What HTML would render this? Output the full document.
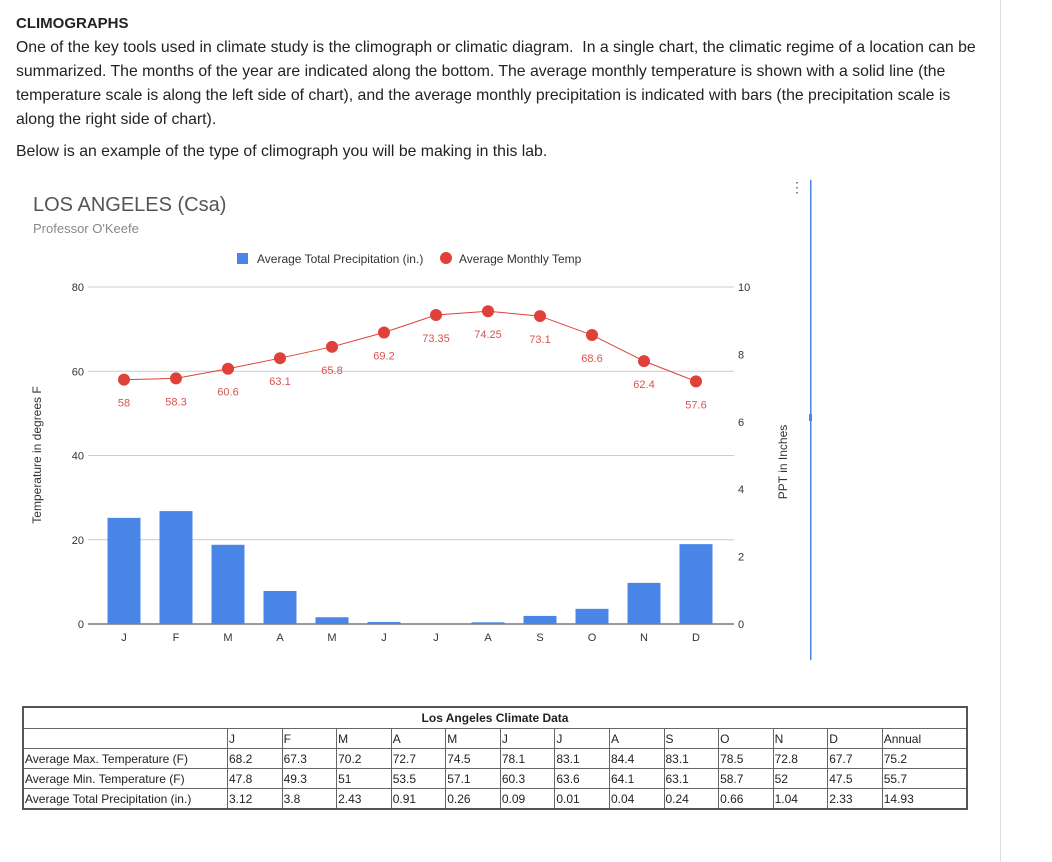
<!DOCTYPE html>
<html><head><meta charset="utf-8"><style>
body{margin:0;width:1052px;height:862px;background:#fff;font-family:"Liberation Sans",sans-serif;position:relative;overflow:hidden}
.txt{position:absolute;left:16px;top:12px;width:1000px;font-size:15.8px;line-height:24px;color:#222;white-space:nowrap}
.txt h3{margin:0;font-size:15px;font-weight:bold}
.txt p{margin:0}
table{position:absolute;left:22px;top:706px;width:946px;border-collapse:collapse;font-size:12px;color:#222;border:2px solid #555}
td{border:1px solid #666;padding:0 1px;height:19px;text-align:left}
</style></head><body>
<div class="txt">
<h3>CLIMOGRAPHS</h3>
<p>One of the key tools used in climate study is the climograph or climatic diagram.&nbsp; In a single chart, the climatic regime of a location can be<br>summarized. The months of the year are indicated along the bottom. The average monthly temperature is shown with a solid line (the<br>temperature scale is along the left side of chart), and the average monthly precipitation is indicated with bars (the precipitation scale is<br>along the right side of chart).</p>
<p style="margin-top:8px">Below is an example of the type of climograph you will be making in this lab.</p>
</div>
<div style="position:absolute;left:1000px;top:0;width:1px;height:862px;background:#ddd"></div>
<svg id="chart" width="1052" height="700" style="position:absolute;left:0;top:0">
<text x="33" y="211" font-size="20" fill="#555">LOS ANGELES (Csa)</text>
<text x="33" y="233" font-size="13" fill="#888">Professor O'Keefe</text>
<g>
<rect x="237" y="253" width="11" height="11" fill="#4a86e8"/>
<text x="257" y="263" font-size="12" fill="#333">Average Total Precipitation (in.)</text>
<circle cx="446" cy="258" r="6" fill="#e0403a"/>
<text x="459" y="263" font-size="12" fill="#333">Average Monthly Temp</text>
</g>
<text transform="translate(41,455) rotate(-90)" text-anchor="middle" font-size="12" fill="#333">Temperature in degrees F</text>
<text transform="translate(787,462) rotate(-90)" text-anchor="middle" font-size="12" fill="#333">PPT in Inches</text>
<g id="g"></g>
<rect x="810" y="180" width="1.5" height="480" fill="#4a86e8"/>
<rect x="809" y="414" width="3" height="7" fill="#4a86e8"/>
<text x="797" y="192" font-size="14" fill="#555" text-anchor="middle">⋮</text>
</svg>
<table>
<tr><td colspan="14" style="text-align:center;font-weight:bold;height:20px">Los Angeles Climate Data</td></tr>
<tr><td style="width:201px"></td><td>J</td><td>F</td><td>M</td><td>A</td><td>M</td><td>J</td><td>J</td><td>A</td><td>S</td><td>O</td><td>N</td><td>D</td><td>Annual</td></tr>
<tr><td>Average Max. Temperature (F)</td><td>68.2</td><td>67.3</td><td>70.2</td><td>72.7</td><td>74.5</td><td>78.1</td><td>83.1</td><td>84.4</td><td>83.1</td><td>78.5</td><td>72.8</td><td>67.7</td><td>75.2</td></tr>
<tr><td>Average Min. Temperature (F)</td><td>47.8</td><td>49.3</td><td>51</td><td>53.5</td><td>57.1</td><td>60.3</td><td>63.6</td><td>64.1</td><td>63.1</td><td>58.7</td><td>52</td><td>47.5</td><td>55.7</td></tr>
<tr><td>Average Total Precipitation (in.)</td><td>3.12</td><td>3.8</td><td>2.43</td><td>0.91</td><td>0.26</td><td>0.09</td><td>0.01</td><td>0.04</td><td>0.24</td><td>0.66</td><td>1.04</td><td>2.33</td><td>14.93</td></tr>
</table>
<script>
const months=["J","F","M","A","M","J","J","A","S","O","N","D"];
const temps=[58,58.3,60.6,63.1,65.8,69.2,73.35,74.25,73.1,68.6,62.4,57.6];
const precip=[3.15,3.35,2.35,0.98,0.2,0.06,0,0.05,0.24,0.45,1.22,2.37];
const tempTicks=[0,20,40,60,80];
const precipTicks=[0,2,4,6,8,10];
const L=88,R=734,T=287,B=624,X0=98,XW=624;
const ns="http://www.w3.org/2000/svg",g=document.getElementById('g');
const xS=i=>X0+XW/12*(i+0.5);
const yT=v=>B-(v/80)*(B-T);
const yP=v=>B-(v/10)*(B-T);
function mk(t,a,txt){const e=document.createElementNS(ns,t);for(const k in a)e.setAttribute(k,a[k]);if(txt!=null)e.textContent=txt;g.appendChild(e);return e;}
tempTicks.forEach(v=>{
 const l=mk('line',{x1:L,x2:R,y1:yT(v),y2:yT(v),stroke:v===0?'#333':'#ccc'});
 
 
 const t=mk('text',{x:L-4,y:yT(v)+4,'text-anchor':'end','font-size':11,fill:'#333'},v);
 
 
});
precipTicks.forEach(v=>{
 const t=mk('text',{x:R+4,y:yP(v)+4,'font-size':11,fill:'#333'},v);
 
 
});
precip.forEach((v,i)=>{
 const r=mk('rect',{x:xS(i)-16.5,y:yP(v),width:33,height:B-yP(v),fill:'#4a86e8'});
 
 
});
months.forEach((m,i)=>{
 const t=mk('text',{x:xS(i),y:B+17,'text-anchor':'middle','font-size':11,fill:'#333'},m);
 
 
});
const p=mk('polyline',{points:temps.map((v,i)=>xS(i)+','+yT(v)).join(' '),fill:'none',stroke:'#e0403a','stroke-width':1});


temps.forEach((v,i)=>{
 const c=mk('circle',{cx:xS(i),cy:yT(v),r:6,fill:'#e0403a'});
 
 
 const t=mk('text',{x:xS(i),y:yT(v)+27,'text-anchor':'middle','font-size':11,fill:'#d9534f'},v);
 
 
});
</script>
</body></html>
